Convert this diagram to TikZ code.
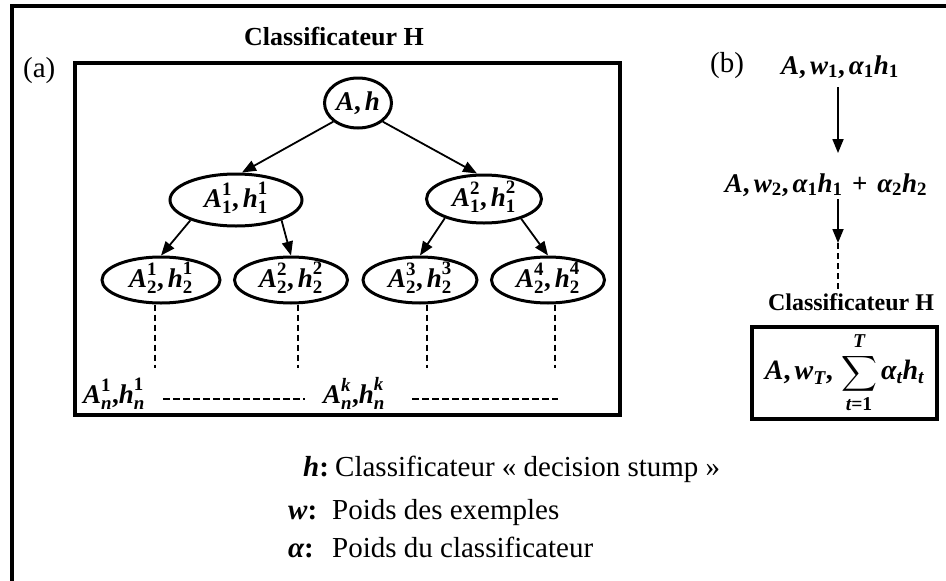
\documentclass[tikz,border=0pt]{standalone}
\usepackage{fontspec}
\setmainfont{Liberation Serif}
\usepackage{amsmath}
\usetikzlibrary{shapes.geometric,arrows.meta}

% bold italic and bold upright pieces used inside formulas
\newcommand{\bi}[1]{\text{\bfseries\itshape #1}}
\newcommand{\bu}[1]{\text{\bfseries #1}}
% A^{a}_{b}, h^{c}_{d}
\newcommand{\pairlab}[4]{$\bi{A}^{#1}_{#2}\bu{,}\,\bi{h}^{#3}_{#4}$}

\begin{document}
\begin{tikzpicture}[x=1pt,y=-1pt,
  lab/.style={font=\fontsize{27}{32}\selectfont, inner sep=0pt},
  ell/.style={lab, ellipse, draw, line width=3pt, text height=18pt, text depth=4pt},
  conn/.style={line width=1.8pt, -{Triangle[length=14pt,width=11pt]}},
  vdash/.style={line width=1.8pt, dash pattern=on 6pt off 4pt},
  hdash/.style={line width=2.2pt, dash pattern=on 7pt off 3pt},
  frame/.style={line width=3.5pt},
  title/.style={font=\fontsize{26}{30}\selectfont\bfseries, inner sep=0pt, anchor=base},
  note/.style={font=\fontsize{29}{34}\selectfont, inner sep=0pt, anchor=base west},
  key/.style={font=\fontsize{29}{34}\selectfont\bfseries, inner sep=0pt, anchor=base west}]

\useasboundingbox (0,0) rectangle (946,581);

% outer frame (open on the right and bottom)
\draw[frame] (946,6) -- (12,6) -- (12,581);

% ---------- (a) tree of stumps ----------
\node[note] (pa) at (23,77) {(a)};
\node[title] (ta) at (334,45) {Classificateur H};
\draw[line width=4pt] (75,63) rectangle (620,415);

\node[ell, minimum width=67pt, minimum height=50pt] (root) at (358,103) {$\bi{A}\bu{,}\,\bi{h}$};
\node[ell, minimum width=132pt, minimum height=52pt] (l1a) at (236,200) {\pairlab{\bu{1}}{\bu{1}}{\bu{1}}{\bu{1}}};
\node[ell, minimum width=115pt, minimum height=48pt] (l1b) at (484,199) {\pairlab{\bu{2}}{\bu{1}}{\bu{2}}{\bu{1}}};
\node[ell, minimum width=118pt, minimum height=46pt] (l2a) at (161,280) {\pairlab{\bu{1}}{\bu{2}}{\bu{1}}{\bu{2}}};
\node[ell, minimum width=113pt, minimum height=46pt] (l2b) at (291,280) {\pairlab{\bu{2}}{\bu{2}}{\bu{2}}{\bu{2}}};
\node[ell, minimum width=114pt, minimum height=46pt] (l2c) at (420,280) {\pairlab{\bu{3}}{\bu{2}}{\bu{3}}{\bu{2}}};
\node[ell, minimum width=113pt, minimum height=46pt] (l2d) at (548,280) {\pairlab{\bu{4}}{\bu{2}}{\bu{4}}{\bu{2}}};

\draw[conn] (root.217) -- ([xshift=6pt]l1a.north);
\draw[conn] (root.323) -- ([xshift=-7pt]l1b.north);
\draw[conn] (l1a.204) -- (l2a.north);
\draw[conn] (l1a.336) -- (l2b.north);
\draw[conn] (l1b.206) -- (l2c.north);
\draw[conn] (l1b.332) -- (l2d.north);

% branches continuing down to depth n
\coordinate (e1) at (155,368);
\coordinate (e2) at (298,368);
\coordinate (e3) at (427,368);
\coordinate (e4) at (555,368);
\draw[vdash] (l2a.south -| e1) -- (e1);
\draw[vdash] (l2b.south -| e2) -- (e2);
\draw[vdash] (l2c.south -| e3) -- (e3);
\draw[vdash] (l2d.south -| e4) -- (e4);

% leaves at depth n
\node[lab, anchor=base west] (an1) at (83,403) {$\bi{A}^{\bu{1}}_{\bi{n}}\bu{,}\bi{h}^{\bu{1}}_{\bi{n}}$};
\node[lab, anchor=base west] (ank) at (323,403) {$\bi{A}^{\bi{k}}_{\bi{n}}\bu{,}\bi{h}^{\bi{k}}_{\bi{n}}$};
\coordinate (row) at (0,399);
\coordinate (rowend) at (558,399);
\draw[hdash, shorten <=18pt, shorten >=18pt] (an1.east |- row) -- (ank.west |- row);
\draw[hdash, shorten <=27pt] (ank.east |- row) -- (rowend);

% ---------- (b) boosting sequence ----------
\node[note] (pb) at (710,72) {(b)};
\coordinate (ax) at (838,0);
\node[lab, anchor=base] (b1) at (840,74) {$\bi{A}\bu{,}\,\bi{w}_{\bu{1}}\bu{,}\,\bi{α}_{\bu{1}}\bi{h}_{\bu{1}}$};
\node[lab, anchor=base] (b2) at (826,192) {$\bi{A}\bu{,}\,\bi{w}_{\bu{2}}\bu{,}\,\bi{α}_{\bu{1}}\bi{h}_{\bu{1}}\,\mathbin{\bu{+}}\,\bi{α}_{\bu{2}}\bi{h}_{\bu{2}}$};
\node[title, font=\fontsize{24}{28}\selectfont\bfseries] (tb) at (851,310) {Classificateur H};
\node[draw, line width=3.5pt, inner sep=0pt, minimum width=185pt, minimum height=92pt,
      font=\fontsize{28}{33}\selectfont] (hb) at (844.5,373)
  {$\displaystyle\bi{A}\bu{,}\,\bi{w}_{\bi{T}}\bu{,}\,\sum_{\bi{t}\bu{=1}}^{\rule[-3pt]{0pt}{3pt}\bi{T}}\bi{α}_{\bi{t}}\bi{h}_{\bi{t}}$};

\coordinate (mid) at (838,243);
\draw[conn, shorten <=9pt, shorten >=20pt] (b1.south -| ax) -- (b2.north -| ax);
\draw[conn, shorten <=3pt] (b2.south -| ax) -- (mid);
\draw[vdash] (mid) -- (tb.north -| ax);

% ---------- legend ----------
\node[key] (kh) at (303,476) {\itshape h\upshape :};
\node[note] (th) at (335,476) {Classificateur « decision stump »};
\node[key] (kw) at (288,519) {\itshape w\upshape :};
\node[note] (tw) at (332,519) {Poids des exemples};
\node[key] (ka) at (288,557) {\itshape α\upshape :};
\node[note] (tA) at (332,557) {Poids du classificateur};

\end{tikzpicture}
\end{document}
